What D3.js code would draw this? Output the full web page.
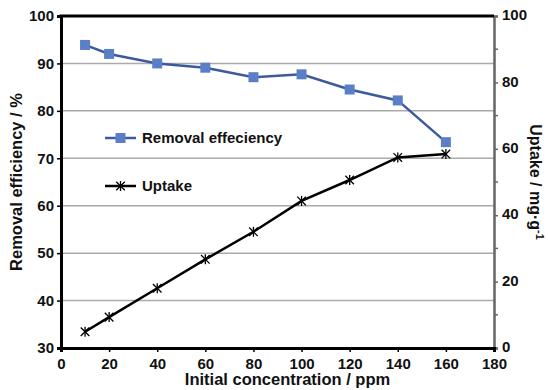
<!DOCTYPE html>
<html lang="en">
<head>
<meta charset="UTF-8">
<title>Removal efficiency and uptake</title>
<script src="https://d3js.org/d3.v7.min.js"></script>
<style>
  body { margin: 0; background: #fff; }
  svg text { font-family: "Liberation Sans", Arial, sans-serif; font-weight: bold; fill: #111; }
  .grid line { stroke: #aaa; stroke-width: 1.5px; }
</style>
</head>
<body>
<div id="container"></div>
<script>
// data
const concentration = [10, 20, 40, 60, 80, 100, 120, 140, 160];
const removal = [93.9, 92.0, 90.0, 89.1, 87.1, 87.7, 84.5, 82.2, 73.4];
const uptake = [4.9, 9.3, 18.0, 26.7, 35.0, 44.3, 50.6, 57.4, 58.4];
const xTicks = [0, 20, 40, 60, 80, 100, 120, 140, 160, 180];
const leftTicks = [30, 40, 50, 60, 70, 80, 90, 100];
const rightTicks = [0, 20, 40, 60, 80, 100];
const rightMinor = [10, 30, 50, 70, 90];

const width = 548, height = 390;
const pLeft = 61, pRight = 494, pTop = 16, pBottom = 348;

const svg = d3.select("#container").append("svg")
    .attr("width", width).attr("height", height);

const x = d3.scaleLinear().domain([0, 180]).range([pLeft, pRight]);
const yL = d3.scaleLinear().domain([30, 100]).range([pBottom, pTop]);
const yR = d3.scaleLinear().domain([0, 100]).range([pBottom, pTop]);

// gridlines
svg.append("g").attr("class", "grid")
    .selectAll("line").data(leftTicks.filter(d => d > 30 && d < 100)).enter()
    .append("line")
    .attr("x1", pLeft).attr("x2", pRight)
    .attr("y1", d => yL(d)).attr("y2", d => yL(d));

// right axis (grey)
const rAxis = svg.append("g")
    .attr("transform", "translate(" + pRight + ",0)")
    .call(d3.axisRight(yR).tickValues(rightTicks).tickSize(4).tickPadding(4));
rAxis.select(".domain").attr("stroke", "#666").attr("stroke-width", 2.5);
rAxis.selectAll(".tick line").attr("stroke", "#666").attr("stroke-width", 1.5);
rAxis.selectAll("text").style("font-size", "15px").attr("fill", "#111").attr("dy", "0.25em");
svg.append("g").selectAll("line").data(rightMinor).enter().append("line")
    .attr("x1", pRight).attr("x2", pRight + 4)
    .attr("y1", d => yR(d)).attr("y2", d => yR(d))
    .attr("stroke", "#666").attr("stroke-width", 1.5);

// left axis
const lAxis = svg.append("g")
    .attr("transform", "translate(" + pLeft + ",0)")
    .call(d3.axisLeft(yL).tickValues(leftTicks).tickSize(4).tickPadding(3));
lAxis.select(".domain").attr("stroke", "#000").attr("stroke-width", 3);
lAxis.selectAll(".tick line").attr("stroke", "#000").attr("stroke-width", 1.5);
lAxis.selectAll("text").style("font-size", "15px");

// bottom axis
const bAxis = svg.append("g")
    .attr("transform", "translate(0," + pBottom + ")")
    .call(d3.axisBottom(x).tickValues(xTicks).tickSize(4).tickPadding(6));
bAxis.select(".domain").attr("stroke", "#000").attr("stroke-width", 3);
bAxis.selectAll(".tick line").attr("stroke", "#000").attr("stroke-width", 1.5);
bAxis.selectAll("text").style("font-size", "15px");

// top frame
svg.append("line")
    .attr("x1", pLeft - 1.5).attr("x2", pRight)
    .attr("y1", pTop).attr("y2", pTop)
    .attr("stroke", "#000").attr("stroke-width", 3);

// axis titles
svg.append("text")
    .attr("transform", "translate(22," + ((pTop + pBottom) / 2) + ") rotate(-90)")
    .attr("text-anchor", "middle")
    .style("font-size", "16.5px")
    .text("Removal efficiency / %");
svg.append("text")
    .attr("x", (pLeft + pRight) / 2 + 10).attr("y", 385)
    .attr("text-anchor", "middle")
    .style("font-size", "16.5px")
    .text("Initial concentration / ppm");
const rt = svg.append("text")
    .attr("transform", "translate(530," + ((pTop + pBottom) / 2) + ") rotate(90)")
    .attr("text-anchor", "middle")
    .style("font-size", "16px");
rt.append("tspan").text("Uptake / mg\u00b7g");
rt.append("tspan").attr("dy", -6).style("font-size", "11px").text("-1");

// lines
const remData = concentration.map((c, i) => ({ x: c, y: removal[i] }));
const upData = concentration.map((c, i) => ({ x: c, y: uptake[i] }));

const lineL = d3.line().x(d => x(d.x)).y(d => yL(d.y));
const lineR = d3.line().x(d => x(d.x)).y(d => yR(d.y));

svg.append("path").datum(remData)
    .attr("d", lineL).attr("fill", "none")
    .attr("stroke", "#3d5a9e").attr("stroke-width", 2.5);
svg.selectAll(".sq").data(remData).enter().append("rect")
    .attr("class", "sq")
    .attr("x", d => x(d.x) - 5).attr("y", d => yL(d.y) - 5)
    .attr("width", 10).attr("height", 10)
    .attr("fill", "#5b7fc6");

svg.append("path").datum(upData)
    .attr("d", lineR).attr("fill", "none")
    .attr("stroke", "#000").attr("stroke-width", 2.5);

const star = d3.symbol().type(d3.symbolX).size(50);
function starMark(g, cx, cy) {
    g.append("path").attr("d", star())
        .attr("transform", "translate(" + cx + "," + cy + ")")
        .attr("fill", "none").attr("stroke", "#000").attr("stroke-width", 1.3);
    g.append("line").attr("x1", cx).attr("x2", cx)
        .attr("y1", cy - 5).attr("y2", cy + 5)
        .attr("stroke", "#000").attr("stroke-width", 1.3);
}
const stars = svg.append("g");
upData.forEach(d => starMark(stars, x(d.x), yR(d.y)));

// legend
const lg = svg.append("g");
lg.append("line").attr("x1", 105).attr("x2", 136).attr("y1", 138).attr("y2", 138)
    .attr("stroke", "#3d5a9e").attr("stroke-width", 2.5);
lg.append("rect").attr("x", 115.5).attr("y", 133).attr("width", 10).attr("height", 10)
    .attr("fill", "#5b7fc6");
lg.append("text").attr("x", 142).attr("y", 143).style("font-size", "15px")
    .text("Removal effeciency");
lg.append("line").attr("x1", 105).attr("x2", 136).attr("y1", 186).attr("y2", 186)
    .attr("stroke", "#000").attr("stroke-width", 2.5);
starMark(lg, 120.5, 186);
lg.append("text").attr("x", 142).attr("y", 191).style("font-size", "15px")
    .text("Uptake");
</script>
</body>
</html>
